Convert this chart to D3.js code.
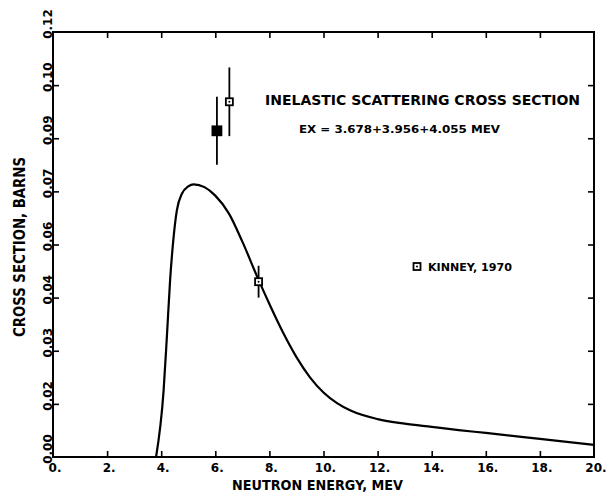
<!DOCTYPE html>
<html><head><meta charset="utf-8">
<script src="https://cdn.jsdelivr.net/npm/d3@7"></script>
<style>body{margin:0;background:#fff}svg{display:block}text{font-family:"DejaVu Sans",sans-serif;fill:#000}</style>
</head><body>
<script>
// Evaluated inelastic cross section curve (MeV, barns)
const curveEnergy = [3.81,4.09,4.21,4.33,4.46,4.58,4.77,5.0,5.2,5.6,6.0,6.5,7.0,7.6,8.0,8.5,9.0,9.5,10.0,10.5,11.0,12.0,13.0,14.0,15.0,16.0,18.0,20.0];
const curveSigma  = [0,0.0189,0.0340,0.0500,0.0622,0.0697,0.0744,0.0764,0.0770,0.0762,0.0738,0.0688,0.0608,0.0500,0.0432,0.0352,0.0282,0.0225,0.0182,0.0152,0.0131,0.0107,0.0094,0.0085,0.0076,0.0068,0.0051,0.0034];
// Kinney 1970 measurements
const dataEnergy = [6.06,6.52,7.60];
const dataSigma  = [0.0921,0.1003,0.0495];
const dataError  = [0.0096,0.0097,0.0045];
const dataFilled = [true,false,false];
// Axis ticks
const xTicks = [0,2,4,6,8,10,12,14,16,18,20];
const xTickLabels = ["0.","2.","4.","6.","8.","10.","12.","14.","16.","18.","20."];
const yTicks = [0,0.015,0.03,0.045,0.06,0.075,0.09,0.105,0.12];
const yTickLabels = ["0.00","0.02","0.03","0.04","0.06","0.07","0.09","0.10","0.12"];

const W=607,H=495;
const svg=d3.select("body").append("svg").attr("width",W).attr("height",H);
const x=d3.scaleLinear().domain([0,20]).range([53,594]);
const y=d3.scaleLinear().domain([0,0.12]).range([457,32]);

// frame
svg.append("rect").attr("x",x(0)).attr("y",y(0.12)).attr("width",x(20)-x(0)).attr("height",y(0)-y(0.12))
  .attr("fill","none").attr("stroke","#000").attr("stroke-width",2);

// axes with inward ticks
const tl=6;
const style=g=>{g.select(".domain").remove();g.selectAll("line").attr("stroke-width",1.6);};
svg.append("g").attr("transform",`translate(0,${y(0)})`)
  .call(d3.axisBottom(x).tickValues(xTicks.slice(1,-1)).tickSize(-tl).tickFormat("")).call(style);
svg.append("g").attr("transform",`translate(0,${y(0.12)})`)
  .call(d3.axisTop(x).tickValues(xTicks.slice(1,-1)).tickSize(-tl).tickFormat("")).call(style);
svg.append("g").attr("transform",`translate(${x(0)},0)`)
  .call(d3.axisLeft(y).tickValues(yTicks.slice(1,-1)).tickSize(-tl).tickFormat("")).call(style);
svg.append("g").attr("transform",`translate(${x(20)},0)`)
  .call(d3.axisRight(y).tickValues(yTicks.slice(1,-1)).tickSize(-tl).tickFormat("")).call(style);

// tick labels
svg.append("g").selectAll("text").data(xTicks).join("text")
  .attr("x",d=>x(d)+2).attr("y",472).attr("text-anchor","middle")
  .attr("font-size",12).attr("font-weight","bold")
  .text((d,i)=>xTickLabels[i]);
svg.append("g").selectAll("text").data(yTicks).join("text")
  .attr("transform",d=>`translate(52,${y(d)-8}) rotate(-90)`).attr("text-anchor","middle")
  .attr("font-size",12).attr("font-weight","bold")
  .text((d,i)=>yTickLabels[i]);

// axis titles
svg.append("text").attr("x",232).attr("y",490).attr("font-size",14).attr("font-weight","bold")
  .attr("textLength",171).attr("lengthAdjust","spacingAndGlyphs").text("NEUTRON ENERGY, MEV");
svg.append("text").attr("transform","translate(25,247) rotate(-90)").attr("text-anchor","middle")
  .attr("font-size",15).attr("font-weight","bold").attr("textLength",180).attr("lengthAdjust","spacingAndGlyphs").text("CROSS SECTION, BARNS");

// titles
svg.append("text").attr("x",265).attr("y",105).attr("font-size",14).attr("font-weight","bold")
  .attr("textLength",315).attr("lengthAdjust","spacingAndGlyphs").text("INELASTIC SCATTERING CROSS SECTION");
svg.append("text").attr("x",299).attr("y",133).attr("font-size",10).attr("font-weight","bold")
  .attr("textLength",201).attr("lengthAdjust","spacingAndGlyphs").text("EX = 3.678+3.956+4.055 MEV");

// curve
const pts=curveEnergy.map((e,i)=>[e,curveSigma[i]]);
svg.append("path").datum(pts)
  .attr("d",d3.line().x(d=>x(d[0])).y(d=>y(d[1])).curve(d3.curveMonotoneX))
  .attr("fill","none").attr("stroke","#000").attr("stroke-width",2.2);

// data with error bars
const dat=dataEnergy.map((e,i)=>({e,s:dataSigma[i],err:dataError[i],f:dataFilled[i]}));
const gd=svg.append("g");
gd.selectAll("line").data(dat).join("line")
  .attr("x1",d=>x(d.e)).attr("x2",d=>x(d.e))
  .attr("y1",d=>y(d.s+d.err)).attr("y2",d=>y(d.s-d.err))
  .attr("stroke","#000").attr("stroke-width",1.8);
gd.selectAll("rect").data(dat).join("rect")
  .attr("x",d=>x(d.e)-(d.f?4.5:3.5)).attr("y",d=>y(d.s)-(d.f?4.5:3.5))
  .attr("width",d=>d.f?9:7).attr("height",d=>d.f?9:7)
  .attr("fill",d=>d.f?"#000":"#fff").attr("stroke","#000").attr("stroke-width",1.8);
gd.selectAll("circle").data(dat.filter(d=>!d.f)).join("circle")
  .attr("cx",d=>x(d.e)).attr("cy",d=>y(d.s)).attr("r",1).attr("fill","#000");

// legend
svg.append("rect").attr("x",413.5).attr("y",263).attr("width",7).attr("height",7)
  .attr("fill","#fff").attr("stroke","#000").attr("stroke-width",1.8);
svg.append("circle").attr("cx",417).attr("cy",266.5).attr("r",1).attr("fill","#000");
svg.append("text").attr("x",428).attr("y",271).attr("font-size",10).attr("font-weight","bold")
  .attr("textLength",84).attr("lengthAdjust","spacingAndGlyphs").text("KINNEY, 1970");
</script>
</body></html>
